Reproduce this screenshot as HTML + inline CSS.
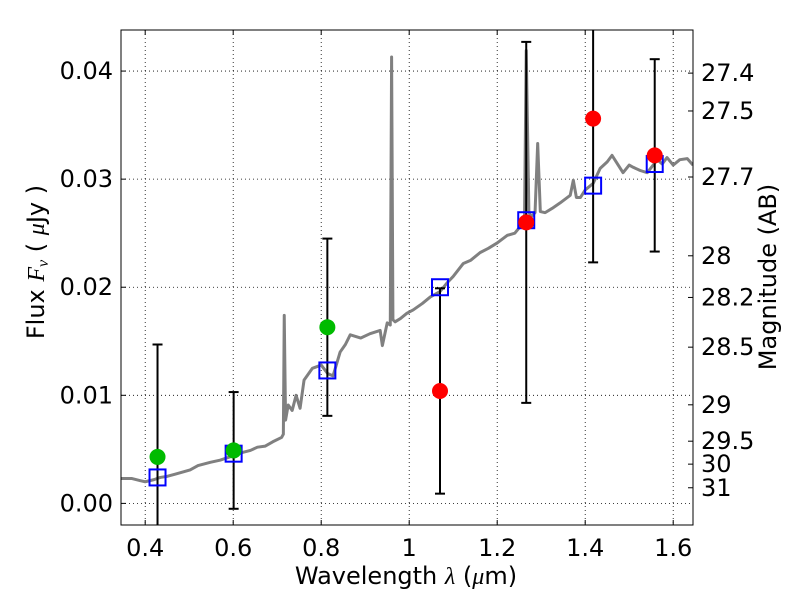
<!DOCTYPE html>
<html><head><meta charset="utf-8"><style>
body{margin:0;background:#fff}
svg text{font-family:"DejaVu Sans","Liberation Sans",sans-serif;fill:#000}
</style></head><body>
<svg id="chart" width="800" height="600" xmlns="http://www.w3.org/2000/svg"></svg>
<script>
const specWave=[0.345,0.37,0.389,0.40,0.42,0.434,0.45,0.468,0.485,0.502,0.52,0.548,0.57,0.60,0.62,0.639,0.655,0.673,0.69,0.71,0.714,0.716,0.719,0.725,0.734,0.743,0.752,0.761,0.780,0.800,0.815,0.827,0.843,0.855,0.866,0.89,0.911,0.934,0.939,0.950,0.957,0.960,0.963,0.968,0.980,0.995,1.009,1.03,1.048,1.07,1.086,1.10,1.123,1.14,1.161,1.18,1.2,1.223,1.24,1.252,1.262,1.266,1.272,1.277,1.286,1.292,1.298,1.309,1.325,1.343,1.366,1.373,1.380,1.389,1.40,1.418,1.434,1.45,1.461,1.475,1.486,1.50,1.509,1.525,1.541,1.564,1.575,1.586,1.6,1.615,1.632,1.645];
const specFlux=[.0023,.0023,.0021,.0020,.0022,.0024,.0025,.0027,.0029,.0031,.0035,.0038,.0040,.0044,.0047,.0049,.0052,.0053,.0057,.0061,.0064,.0174,.0077,.0091,.0086,.0100,.0088,.0114,.0125,.0128,.0120,.0118,.0140,.0147,.0156,.0153,.0157,.0160,.0146,.0167,.0165,.0413,.0170,.0168,.0171,.0176,.0179,.0185,.0191,.0196,.0204,.0210,.0222,.0225,.0232,.0236,.0241,.0248,.0250,.0256,.0260,.0419,.0270,.0265,.0269,.0333,.0270,.0269,.0273,.0278,.0285,.0299,.0283,.0283,.0290,.0296,.0310,.0316,.0322,.0313,.0306,.0313,.0311,.0308,.0306,.0318,.0314,.0320,.0313,.0318,.0319,.0313];
const obsWave=[0.428,0.601,0.814,1.07,1.266,1.418,1.558];
const obsFlux=[0.0043,0.0049,0.0163,0.0104,0.0260,0.0356,0.0322];
const obsErr=[0.0104,0.0054,0.0082,0.0095,0.0167,0.0133,0.0089];
const obsColor=['#00bb00','#00bb00','#00bb00','red','red','red','red'];
const modelFlux=[0.0024,0.0046,0.0123,0.0200,0.0262,0.0294,0.0314];
const xTicks=[0.4,0.6,0.8,1.0,1.2,1.4,1.6];
const xTickLabels=['0.4','0.6','0.8','1','1.2','1.4','1.6'];
const yTicks=[0,0.01,0.02,0.03,0.04];
const yTickLabels=['0.00','0.01','0.02','0.03','0.04'];
const magTicks=[27.4,27.5,27.7,28,28.2,28.5,29,29.5,30,31];
const magLabels=['27.4','27.5','27.7','28','28.2','28.5','29','29.5','30','31'];

const L=121,R=693,T=30,B=525,X0=0.345,X1=1.645,Y0=-0.002,Y1=0.0438;
const sx=v=>L+(v-X0)/(X1-X0)*(R-L);
const sy=v=>B-(v-Y0)/(Y1-Y0)*(B-T);
const NS='http://www.w3.org/2000/svg';
const svg=document.getElementById('chart');
function mk(tag,attrs,parent){const e=document.createElementNS(NS,tag);for(const k in attrs)e.setAttribute(k,attrs[k]);(parent||svg).appendChild(e);return e;}
const clip=mk('clipPath',{id:'pc'});mk('rect',{x:L,y:T,width:R-L,height:B-T},clip);
const grid=mk('g',{});


xTicks.forEach((t,i)=>{
 const x=sx(t);
 mk('line',{x1:x,x2:x,y1:T,y2:B,stroke:'#000','stroke-width':0.8,'stroke-dasharray':'1,3'},grid);
 mk('line',{x1:x,x2:x,y1:B,y2:B-5,stroke:'#000'});mk('line',{x1:x,x2:x,y1:T,y2:T+5,stroke:'#000'});
 const tx=mk('text',{x:x,y:B+31,'font-size':24,'text-anchor':'middle'});tx.textContent=xTickLabels[i];
 
 
});
yTicks.forEach((t,i)=>{
 const y=sy(t);
 mk('line',{x1:L,x2:R,y1:y,y2:y,stroke:'#000','stroke-width':0.8,'stroke-dasharray':'1,3'},grid);
 mk('line',{x1:L,x2:L+5,y1:y,y2:y,stroke:'#000'});
 const tx=mk('text',{x:L-8,y:y+8,'font-size':24,'text-anchor':'end'});tx.textContent=yTickLabels[i];
 
 
});
magTicks.forEach((m,i)=>{
 const f=Math.pow(10,(23.9-m)/2.5);const y=sy(f);
 mk('line',{x1:R-5,x2:R,y1:y,y2:y,stroke:'#000'});
 const tx=mk('text',{x:R+8,y:y+8,'font-size':24});tx.textContent=magLabels[i];
 
 
});
const pg=mk('g',{'clip-path':'url(#pc)'});
const sp=mk('polyline',{points:specWave.map((w,i)=>sx(w)+','+sy(specFlux[i])).join(' '),fill:'none',stroke:'#808080','stroke-width':3,'stroke-linejoin':'round'},pg);


obsWave.forEach((w,i)=>{
 const x=sx(w),yt=sy(obsFlux[i]+obsErr[i]),yb=sy(obsFlux[i]-obsErr[i]);
 const g=mk('g',{},pg);
 
 
 mk('line',{x1:x,x2:x,y1:yt,y2:yb,stroke:'#000','stroke-width':2},g);
 mk('line',{x1:x-5,x2:x+5,y1:yt,y2:yt,stroke:'#000','stroke-width':2},g);
 mk('line',{x1:x-5,x2:x+5,y1:yb,y2:yb,stroke:'#000','stroke-width':2},g);
});
obsWave.forEach((w,i)=>{
 const r=mk('rect',{x:sx(w)-8,y:sy(modelFlux[i])-8,width:16,height:16,fill:'none',stroke:'#0000ff','stroke-width':2},pg);
 
 
});
obsWave.forEach((w,i)=>{
 const c=mk('circle',{cx:sx(w),cy:sy(obsFlux[i]),r:8,fill:obsColor[i]},pg);
 
 
});
const fr=mk('rect',{x:L,y:T,width:R-L,height:B-T,fill:'none',stroke:'#000','stroke-width':1});


const xl=mk('text',{x:406,y:584,'font-size':24,'text-anchor':'middle'});
xl.innerHTML='Wavelength  <tspan font-style="italic" font-family="Liberation Serif">λ</tspan> (<tspan font-style="italic" font-family="Liberation Serif">μ</tspan>m)';


const yl=mk('text',{x:0,y:0,'font-size':24,'text-anchor':'middle',transform:'translate(44,262) rotate(-90)'});
yl.innerHTML='Flux  <tspan font-style="italic" font-family="Liberation Serif">F</tspan><tspan font-style="italic" font-family="Liberation Serif" font-size="16" dy="4">ν</tspan><tspan dy="-4">  ( </tspan><tspan font-style="italic" font-family="Liberation Serif">μ</tspan>Jy )';


const rl=mk('text',{x:0,y:0,'font-size':24,'text-anchor':'middle',transform:'translate(776,277) rotate(-90)'});
rl.textContent='Magnitude (AB)';


</script>
</body></html>
